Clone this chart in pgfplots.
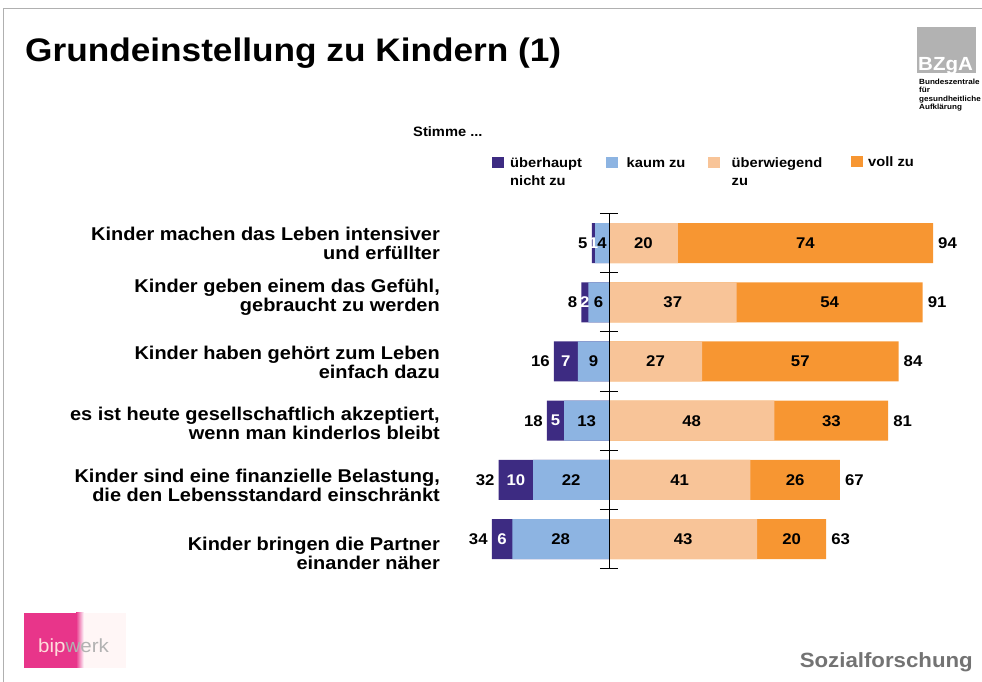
\documentclass[border=0pt]{standalone}
\usepackage{pgfplots}
\pgfplotsset{compat=1.18}
\usepackage{pgfplotstable}
\usepackage{fontspec}
\setmainfont{Liberation Sans}[FakeStretch=1.08]
\definecolor{cNH}{HTML}{3D2B82}
\definecolor{cKZ}{HTML}{8DB4E2}
\definecolor{cUW}{HTML}{F8C498}
\definecolor{cVZ}{HTML}{F79632}
\definecolor{frame}{HTML}{B0B0B0}
\definecolor{logopink}{HTML}{E8358A}
\newcommand\catfont{\fontsize{18.5}{19}\selectfont\bfseries}
\newcommand\legfont{\fontsize{13.6}{18}\selectfont\bfseries}
\newcommand\numfont{\fontsize{15.5}{17}\selectfont\bfseries}
\newcommand\bzgafont{\fontsize{7.5}{8.7}\selectfont\bfseries}

\pgfplotstableread{
c nh kz neg uw vz pos
0 1 4 5 20 74 94
1 2 6 8 37 54 91
2 7 9 16 27 57 84
3 5 13 18 48 33 81
4 10 22 32 41 26 67
5 6 28 34 43 20 63
}\data

\begin{document}
\begin{tikzpicture}
\path[use as bounding box] (0pt,0pt) rectangle (982pt,682pt);
\begin{scope}[x=1pt,y=-1pt,shift={(0pt,682pt)}]
  % frame
  \draw[frame, line width=1.5pt] (3.5,682) -- (3.5,8.5) -- (982,8.5);
  % title
  \node[anchor=base west, inner sep=0, font=\fontsize{32.6}{38}\selectfont\bfseries] at (25,62) {Grundeinstellung zu Kindern (1)};
  % BZgA logo
  \fill[black!30] (917,27) rectangle (976,73);
  \node[anchor=base west, inner sep=0, text=white, font=\fontsize{19}{20}\selectfont\bfseries] at (918,71) {BZgA};
  \node[anchor=base west, inner sep=0, font=\bzgafont] at (919,85) {Bundeszentrale};
  \node[anchor=base west, inner sep=0, font=\bzgafont] at (919,93) {für};
  \node[anchor=base west, inner sep=0, font=\bzgafont] at (919,101.5) {gesundheitliche};
  \node[anchor=base west, inner sep=0, font=\bzgafont] at (919,110) {Aufklärung};
  % Stimme
  \node[anchor=base west, inner sep=0, font=\legfont] at (413,137) {Stimme ...};
  % legend
  \fill[cNH] (492,157) rectangle (504,168);
  \node[anchor=base west, inner sep=0, font=\legfont] at (510,167.7) {überhaupt};
  \node[anchor=base west, inner sep=0, font=\legfont] at (510,185.7) {nicht zu};
  \fill[cKZ] (606,157) rectangle (618,168);
  \node[anchor=base west, inner sep=0, font=\legfont] at (626.5,167.7) {kaum zu};
  \fill[cUW] (708,157) rectangle (720,168);
  \node[anchor=base west, inner sep=0, font=\legfont] at (731.5,167.7) {überwiegend};
  \node[anchor=base west, inner sep=0, font=\legfont] at (731.5,185.7) {zu};
  \fill[cVZ] (851,156) rectangle (863,167);
  \node[anchor=base west, inner sep=0, font=\legfont] at (868,166.5) {voll zu};
  % category labels
  \node[anchor=east, inner sep=0, align=right, font=\catfont] at (440,243) {Kinder machen das Leben intensiver\\und erfüllter};
  \node[anchor=east, inner sep=0, align=right, font=\catfont] at (440,297) {Kinder geben einem das Gefühl,\\gebraucht zu werden};
  \node[anchor=east, inner sep=0, align=right, font=\catfont] at (440,362) {Kinder haben gehört zum Leben\\einfach dazu};
  \node[anchor=east, inner sep=0, align=right, font=\catfont] at (440,423) {es ist heute gesellschaftlich akzeptiert,\\wenn man kinderlos bleibt};
  \node[anchor=east, inner sep=0, align=right, font=\catfont] at (440,485) {Kinder sind eine finanzielle Belastung,\\die den Lebensstandard einschränkt};
  \node[anchor=east, inner sep=0, align=right, font=\catfont] at (440,553) {Kinder bringen die Partner\\einander näher};
  % bottom logo
  \fill[logopink] (24,613) rectangle (76,668);
  \shade[left color=logopink, right color=white] (76,613) rectangle (84,668);
  \fill[pink!15] (84,613) rectangle (126,668);
  \node[anchor=base west, inner sep=0, font=\fontsize{19}{20}\selectfont] at (38,653) {\textcolor{pink!55}{bip}\textcolor{black!30}{werk}};
  % footer
  \node[anchor=base east, inner sep=0, text=black!55, font=\fontsize{20.6}{22}\selectfont\bfseries] at (973,668) {Sozialforschung};
\end{scope}

\begin{axis}[
  at={(471.1pt,468.5pt)}, anchor=north west,
  scale only axis, width=517.05pt, height=355.2pt,
  xmin=-40, xmax=110, ymin=-0.5, ymax=5.5, y dir=reverse,
  hide axis, clip=false,
  /pgf/number format/assume math mode=true,
  nodes near coords style={font=\numfont, inner sep=0pt},
]
\addplot[xbar, bar width=40pt, bar shift=0pt, draw=none, fill=cVZ] table[x=pos, y=c] {\data};
\addplot[xbar, bar width=40pt, bar shift=0pt, draw=none, fill=cUW] table[x=uw, y=c] {\data};
\addplot[xbar, bar width=40pt, bar shift=0pt, draw=none, fill=cNH] table[x expr=-\thisrow{neg}, y=c] {\data};
\addplot[xbar, bar width=40pt, bar shift=0pt, draw=none, fill=cKZ] table[x expr=-\thisrow{kz}, y=c] {\data};
% axis line and ticks
\draw[line width=0.9pt] (axis cs:0,-0.5) -- (axis cs:0,5.5);
\draw[line width=0.9pt] ([xshift=-9pt]axis cs:0,-0.5) -- ([xshift=9pt]axis cs:0,-0.5);
\draw[line width=0.9pt] ([xshift=-9pt]axis cs:0,0.5) -- ([xshift=9pt]axis cs:0,0.5);
\draw[line width=0.9pt] ([xshift=-9pt]axis cs:0,1.5) -- ([xshift=9pt]axis cs:0,1.5);
\draw[line width=0.9pt] ([xshift=-9pt]axis cs:0,2.5) -- ([xshift=9pt]axis cs:0,2.5);
\draw[line width=0.9pt] ([xshift=-9pt]axis cs:0,3.5) -- ([xshift=9pt]axis cs:0,3.5);
\draw[line width=0.9pt] ([xshift=-9pt]axis cs:0,4.5) -- ([xshift=9pt]axis cs:0,4.5);
\draw[line width=0.9pt] ([xshift=-9pt]axis cs:0,5.5) -- ([xshift=9pt]axis cs:0,5.5);
% segment labels
\addplot[draw=none, point meta=explicit, nodes near coords, nodes near coords style={anchor=center, text=black}] table[x expr=\thisrow{uw}+\thisrow{vz}/2, y=c, meta=vz] {\data};
\addplot[draw=none, point meta=explicit, nodes near coords, nodes near coords style={anchor=center, text=black}] table[x expr=\thisrow{uw}/2, y=c, meta=uw] {\data};
\addplot[draw=none, point meta=explicit, nodes near coords, nodes near coords style={anchor=center, text=black}] table[x expr=-\thisrow{kz}/2, y=c, meta=kz] {\data};
\addplot[draw=none, point meta=explicit, nodes near coords, nodes near coords style={anchor=center, text=white}] table[x expr=-\thisrow{kz}-\thisrow{nh}/2, y=c, meta=nh] {\data};
% totals
\addplot[draw=none, point meta=explicit, nodes near coords, nodes near coords style={anchor=west, xshift=5pt, text=black}] table[x=pos, y=c, meta=pos] {\data};
\addplot[draw=none, point meta=explicit, nodes near coords, nodes near coords style={anchor=east, xshift=-4pt, text=black}] table[x expr=-\thisrow{neg}, y=c, meta=neg] {\data};
\end{axis}
\end{tikzpicture}
\end{document}
